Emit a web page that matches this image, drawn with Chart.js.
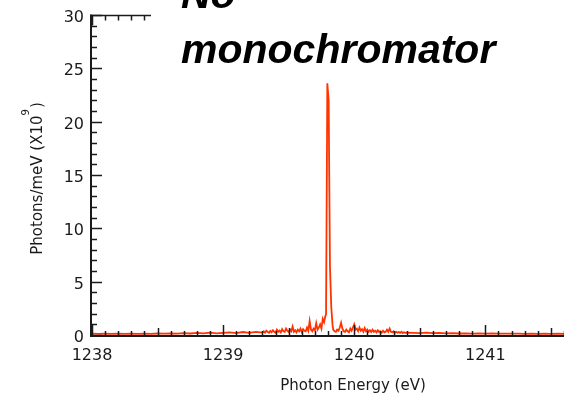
<!DOCTYPE html>
<html>
<head>
<meta charset="utf-8">
<script src="https://cdn.jsdelivr.net/npm/chart.js@4"></script>
<style>
  html, body { margin: 0; padding: 0; background: #fff; }
  #wrap { width: 564px; height: 397px; position: relative; }
</style>
</head>
<body>
<div id="wrap"><canvas id="spec" width="564" height="397"></canvas></div>
<script>
// photon energy (eV) and flux (photons/meV, x10^9)
const energies = [
  1238.00, 1238.05, 1238.10, 1238.15, 1238.20, 1238.25, 1238.30, 1238.35, 1238.40, 1238.45,
  1238.50, 1238.55, 1238.60, 1238.65, 1238.70, 1238.75, 1238.80, 1238.85, 1238.90, 1238.95,
  1239.00, 1239.05, 1239.10, 1239.15, 1239.20, 1239.25, 1239.30,
  1239.31, 1239.32, 1239.33, 1239.34, 1239.35, 1239.36, 1239.37, 1239.38, 1239.39, 1239.40,
  1239.41, 1239.42, 1239.43, 1239.44, 1239.45, 1239.46, 1239.47, 1239.48, 1239.49, 1239.50,
  1239.51, 1239.52, 1239.53, 1239.54, 1239.55, 1239.56, 1239.57, 1239.58, 1239.59, 1239.60,
  1239.61, 1239.62, 1239.63, 1239.64, 1239.65, 1239.66, 1239.67, 1239.68, 1239.69, 1239.70,
  1239.71, 1239.72, 1239.73, 1239.74, 1239.75, 1239.76, 1239.77, 1239.78,
  1239.785, 1239.795, 1239.805, 1239.815, 1239.825, 1239.835,
  1239.84, 1239.85, 1239.86, 1239.87, 1239.88, 1239.89, 1239.90,
  1239.91, 1239.92, 1239.93, 1239.94, 1239.95, 1239.96, 1239.97, 1239.98, 1239.99, 1240.00,
  1240.01, 1240.02, 1240.03, 1240.04, 1240.05, 1240.06, 1240.07, 1240.08, 1240.09, 1240.10,
  1240.11, 1240.12, 1240.13, 1240.14, 1240.15, 1240.16, 1240.17, 1240.18, 1240.19, 1240.20,
  1240.21, 1240.22, 1240.23, 1240.24, 1240.25, 1240.26, 1240.27, 1240.28, 1240.29, 1240.30,
  1240.31, 1240.32, 1240.33, 1240.34, 1240.35, 1240.36, 1240.37, 1240.38, 1240.39, 1240.40,
  1240.45, 1240.50, 1240.55, 1240.60, 1240.65, 1240.70, 1240.75, 1240.80, 1240.85, 1240.90,
  1240.95, 1241.00, 1241.05, 1241.10, 1241.15, 1241.20, 1241.25, 1241.30, 1241.35, 1241.40,
  1241.45, 1241.50, 1241.55, 1241.60
];
const photons = [
  0.12, 0.10, 0.12, 0.10, 0.13, 0.10, 0.12, 0.11, 0.13, 0.10,
  0.14, 0.12, 0.15, 0.12, 0.18, 0.14, 0.20, 0.15, 0.22, 0.16,
  0.20, 0.25, 0.18, 0.28, 0.20, 0.30, 0.22,
  0.35, 0.22, 0.40, 0.28, 0.20, 0.38, 0.25, 0.45, 0.30, 0.22,
  0.50, 0.30, 0.42, 0.25, 0.55, 0.35, 0.30, 0.60, 0.40, 0.28,
  0.50, 0.35, 0.80, 0.30, 0.45, 0.25, 0.50, 0.35, 0.60, 0.30,
  0.55, 0.40, 0.35, 0.70, 0.40, 1.30, 0.50, 0.35, 0.60, 0.45,
  1.10, 0.50, 0.70, 1.00, 0.60, 1.50, 1.20, 1.80,
  1.90, 23.6, 22.0, 6.4, 2.6, 0.90,
  0.50, 0.35, 0.30, 0.50, 0.40, 0.70, 1.15,
  0.60, 0.35, 0.30, 0.50, 0.35, 0.25, 0.60, 0.40, 0.70, 1.00,
  0.50, 0.60, 0.35, 0.70, 0.40, 0.55, 0.30, 0.65, 0.35, 0.50,
  0.30, 0.45, 0.28, 0.50, 0.30, 0.40, 0.25, 0.45, 0.30, 0.35,
  0.22, 0.40, 0.25, 0.30, 0.50, 0.30, 0.60, 0.30, 0.25, 0.35,
  0.20, 0.30, 0.22, 0.28, 0.20, 0.30, 0.18, 0.25, 0.20, 0.22,
  0.20, 0.18, 0.22, 0.17, 0.20, 0.15, 0.18, 0.14, 0.16, 0.13,
  0.15, 0.13, 0.14, 0.12, 0.13, 0.12, 0.12, 0.11, 0.12, 0.11,
  0.12, 0.11, 0.12, 0.11
];
const xTickValues = [1238, 1239, 1240, 1241];
const yTickValues = [0, 5, 10, 15, 20, 25, 30];

const AXIS = '#1a1a1a';
const LINE = '#ff3300';
const FONT = '"DejaVu Sans", Verdana, sans-serif';

const axesPlugin = {
  id: 'axes',
  afterDatasetsDraw(chart) {
    const ctx = chart.ctx, a = chart.chartArea;
    const x = chart.scales.x, y = chart.scales.y;
    ctx.save();
    ctx.strokeStyle = AXIS;
    ctx.lineWidth = 1.5;

    // x ticks (inside, pointing up): 0.1 minor, 0.5 medium, 1 major
    for (let i = 0; i <= 36; i++) {
      const px = Math.round(x.getPixelForValue(1238 + i / 10)) + 0.5;
      const len = i % 10 === 0 ? 10 : (i % 5 === 0 ? 7 : 4);
      ctx.beginPath(); ctx.moveTo(px, a.bottom); ctx.lineTo(px, a.bottom - len); ctx.stroke();
    }
    // y ticks (inside, pointing right): 1 minor, 5 major
    for (let v = 0; v <= 30; v++) {
      const py = Math.round(y.getPixelForValue(v)) + 0.5;
      const len = v % 5 === 0 ? 10 : 5;
      ctx.beginPath(); ctx.moveTo(a.left, py); ctx.lineTo(a.left + len, py); ctx.stroke();
    }
    // top mirror axis, ticks pointing down
    const topY = Math.round(y.getPixelForValue(30)) + 0.5;
    ctx.beginPath(); ctx.moveTo(a.left - 2, topY); ctx.lineTo(a.right, topY); ctx.stroke();
    for (let i = 0; i <= 36; i++) {
      const px = Math.round(x.getPixelForValue(1238 + i / 10)) + 0.5;
      const len = i % 10 === 0 ? 10 : (i % 5 === 0 ? 7 : 5);
      ctx.beginPath(); ctx.moveTo(px, topY); ctx.lineTo(px, topY + len); ctx.stroke();
    }

    // axis lines
    ctx.lineWidth = 2;
    ctx.beginPath(); ctx.moveTo(a.left - 1, topY - 1); ctx.lineTo(a.left - 1, a.bottom + 2); ctx.stroke();
    ctx.beginPath(); ctx.moveTo(a.left - 2, a.bottom + 1); ctx.lineTo(a.right, a.bottom + 1); ctx.stroke();

    // tick labels
    ctx.fillStyle = AXIS;
    ctx.font = '16px ' + FONT;
    ctx.textBaseline = 'alphabetic';
    ctx.textAlign = 'center';
    xTickValues.forEach(function(v) { ctx.fillText(String(v), x.getPixelForValue(v), 360); });
    ctx.textAlign = 'right';
    yTickValues.forEach(function(v) { ctx.fillText(String(v), a.left - 8, y.getPixelForValue(v) + 7); });

    // x title
    ctx.font = '15px ' + FONT;
    ctx.textAlign = 'center';
    ctx.fillText('Photon Energy (eV)', 353, 390);

    // y title with superscript
    ctx.save();
    ctx.translate(41.5, 179);
    ctx.rotate(-Math.PI / 2);
    ctx.textAlign = 'left';
    const main = 'Photons/meV (X10';
    ctx.font = '15px ' + FONT;
    const w1 = ctx.measureText(main).width;
    const w3 = ctx.measureText(')').width;
    ctx.font = '10px ' + FONT;
    const w2 = ctx.measureText('9').width;
    const x0 = -(w1 + w2 + w3) / 2;
    ctx.font = '15px ' + FONT;
    ctx.fillText(main, x0, 0);
    ctx.font = '10px ' + FONT;
    ctx.fillText('9', x0 + w1, -13);
    ctx.font = '15px ' + FONT;
    ctx.fillText(')', x0 + w1 + w2 + 1, 0);
    ctx.restore();

    ctx.restore();
  },
  afterDraw(chart) {
    const ctx = chart.ctx;
    ctx.save();
    // title box sits over the top axis
    ctx.fillStyle = '#fff';
    ctx.fillRect(151, 0, 413, 72);
    ctx.fillStyle = '#000';
    ctx.font = 'italic bold 41px "Liberation Sans", Arial, sans-serif';
    ctx.textAlign = 'left';
    ctx.textBaseline = 'alphabetic';
    ctx.fillText('No', 181, 8);
    ctx.fillText('monochromator', 181, 63);
    ctx.restore();
  }
};

new Chart(document.getElementById('spec').getContext('2d'), {
  type: 'line',
  data: {
    datasets: [{
      data: energies.map(function(e, i) { return { x: e, y: photons[i] }; }),
      borderColor: LINE,
      borderWidth: 1.8,
      pointRadius: 0,
      tension: 0,
      fill: false
    }]
  },
  options: {
    responsive: false,
    devicePixelRatio: 1,
    animation: false,
    layout: { padding: { left: 92, right: 0, top: 15, bottom: 62 }, autoPadding: false },
    plugins: { legend: { display: false }, tooltip: { enabled: false } },
    scales: {
      x: { type: 'linear', min: 1238, max: 1241.6, display: false },
      y: { type: 'linear', min: 0, max: 30, display: false }
    }
  },
  plugins: [axesPlugin]
});
</script>
</body>
</html>
